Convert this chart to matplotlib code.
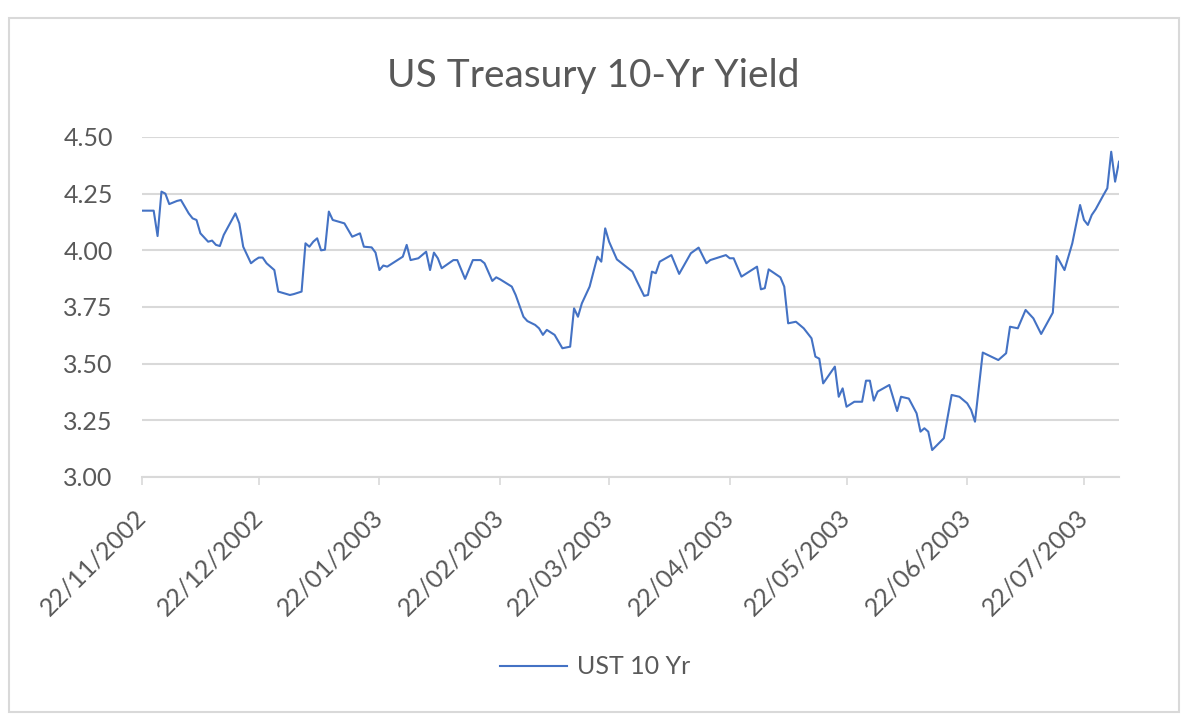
import matplotlib
matplotlib.use("Agg")
import matplotlib.pyplot as plt
import pandas as pd
from matplotlib.patches import Rectangle

plt.rcParams['font.family'] = ['Lato', 'DejaVu Sans']

# ---------------- data ----------------
title = "US Treasury 10-Yr Yield"
series_name = "UST 10 Yr"
start_date = "2002-11-22"

days_since_start = [
    0, 3, 4, 5, 6, 7, 9, 10, 12, 13,
    14, 15, 17, 18, 19, 20, 21, 24, 25, 26,
    28, 29, 30, 31, 32, 34, 35, 38, 39, 41,
    42, 43, 44, 45, 46, 47, 48, 49, 52, 54,
    56, 57, 59, 60, 61, 62, 63, 67, 68, 69,
    71, 73, 74, 75, 76, 77, 80, 81, 83, 85,
    87, 88, 90, 91, 92, 95, 96, 98, 99, 101,
    102, 103, 104, 106, 108, 110, 111, 112, 113, 115,
    117, 118, 119, 120, 122, 126, 127, 129, 130, 131,
    132, 133, 136, 138, 140, 141, 143, 145, 146, 150,
    151, 152, 154, 158, 159, 160, 161, 164, 165, 166,
    168, 170, 172, 173, 174, 175, 178, 179, 180, 181,
    183, 185, 186, 187, 188, 189, 192, 194, 195, 197,
    199, 200, 201, 202, 203, 206, 208, 210, 212, 213,
    214, 216, 220, 221, 222, 223, 225, 227, 229, 231,
    234, 235, 237, 239, 241, 242, 243, 244, 245, 247,
    248, 249, 250, 251,
]

yields = [
    4.175, 4.175, 4.063, 4.259, 4.250, 4.204, 4.218, 4.222, 4.163, 4.141,
    4.134, 4.075, 4.038, 4.043, 4.024, 4.019, 4.068, 4.163, 4.119, 4.016,
    3.943, 3.957, 3.968, 3.968, 3.943, 3.913, 3.818, 3.803, 3.807, 3.818,
    4.031, 4.016, 4.038, 4.053, 4.000, 4.003, 4.171, 4.134, 4.119, 4.060,
    4.075, 4.016, 4.013, 3.990, 3.913, 3.933, 3.928, 3.972, 4.024, 3.957,
    3.965, 3.994, 3.913, 3.990, 3.965, 3.921, 3.957, 3.957, 3.874, 3.957,
    3.957, 3.943, 3.865, 3.881, 3.872, 3.840, 3.803, 3.707, 3.688, 3.671,
    3.656, 3.627, 3.649, 3.627, 3.568, 3.575, 3.744, 3.707, 3.766, 3.840,
    3.972, 3.950, 4.097, 4.038, 3.960, 3.906, 3.869, 3.799, 3.803, 3.906,
    3.899, 3.950, 3.979, 3.896, 3.957, 3.987, 4.012, 3.943, 3.957, 3.979,
    3.965, 3.965, 3.884, 3.928, 3.828, 3.833, 3.916, 3.881, 3.840, 3.678,
    3.685, 3.656, 3.612, 3.531, 3.522, 3.413, 3.487, 3.354, 3.391, 3.310,
    3.332, 3.332, 3.425, 3.425, 3.337, 3.377, 3.406, 3.291, 3.354, 3.346,
    3.281, 3.200, 3.215, 3.200, 3.119, 3.171, 3.362, 3.354, 3.325, 3.296,
    3.244, 3.549, 3.516, 3.531, 3.546, 3.663, 3.656, 3.737, 3.700, 3.631,
    3.725, 3.975, 3.913, 4.031, 4.200, 4.134, 4.112, 4.156, 4.181, 4.244,
    4.274, 4.435, 4.303, 4.391,
]

x_tick_labels = ["22/11/2002", "22/12/2002", "22/01/2003", "22/02/2003",
                 "22/03/2003", "22/04/2003", "22/05/2003", "22/06/2003",
                 "22/07/2003"]
y_ticks = [3.00, 3.25, 3.50, 3.75, 4.00, 4.25, 4.50]

# ---------------- figure ----------------
TEXT = "#595959"
GRID = "#D9D9D9"
LINE = "#4472C4"

dates = pd.Timestamp(start_date) + pd.to_timedelta(days_since_start, unit="D")
tick_dates = pd.to_datetime(x_tick_labels, format="%d/%m/%Y")

W, H = 1200, 726
fig = plt.figure(figsize=(W / 100, H / 100), dpi=100)
fig.patch.set_facecolor("white")

ax = fig.add_axes([142 / W, 1 - 477 / H, (1119 - 142) / W, (477 - 137) / H])
ax.plot(dates, yields, color=LINE, lw=1.5, label=series_name, zorder=3)

ax.set_xlim(dates[0], dates[-1])
ax.set_ylim(y_ticks[0], y_ticks[-1])
ax.set_yticks(y_ticks)
ax.set_yticklabels([f"{v:.2f}" for v in y_ticks])
ax.set_xticks(tick_dates)
ax.set_xticklabels(x_tick_labels, rotation=45, ha="right", va="center",
                   rotation_mode="anchor")

ax.grid(axis="y", color=GRID, lw=1.5, zorder=0)
ax.set_axisbelow(True)
for s in ["top", "right", "left"]:
    ax.spines[s].set_visible(False)
ax.spines["bottom"].set_color(GRID)
ax.spines["bottom"].set_linewidth(1.5)

ax.tick_params(axis="y", length=0, pad=21, labelsize=18, labelcolor=TEXT)
ax.tick_params(axis="x", length=6, width=1.2, color=GRID, direction="out",
               pad=20, labelsize=18, labelcolor=TEXT)

fig.text(593 / W, 1 - 87 / H, title, ha="center", va="baseline",
         fontsize=28, color=TEXT)

leg = fig.legend(loc="center", bbox_to_anchor=(595 / W, 1 - 667 / H),
                 frameon=False, fontsize=18, handlelength=2.7,
                 handletextpad=0.4)
for t in leg.get_texts():
    t.set_color(TEXT)

fig.add_artist(Rectangle((9 / W, 1 - 712 / H), (1179 - 9) / W, (712 - 18) / H,
                         transform=fig.transFigure, fill=False,
                         edgecolor=GRID, lw=1.5))

fig.savefig("out.png", dpi=100, facecolor="white")
